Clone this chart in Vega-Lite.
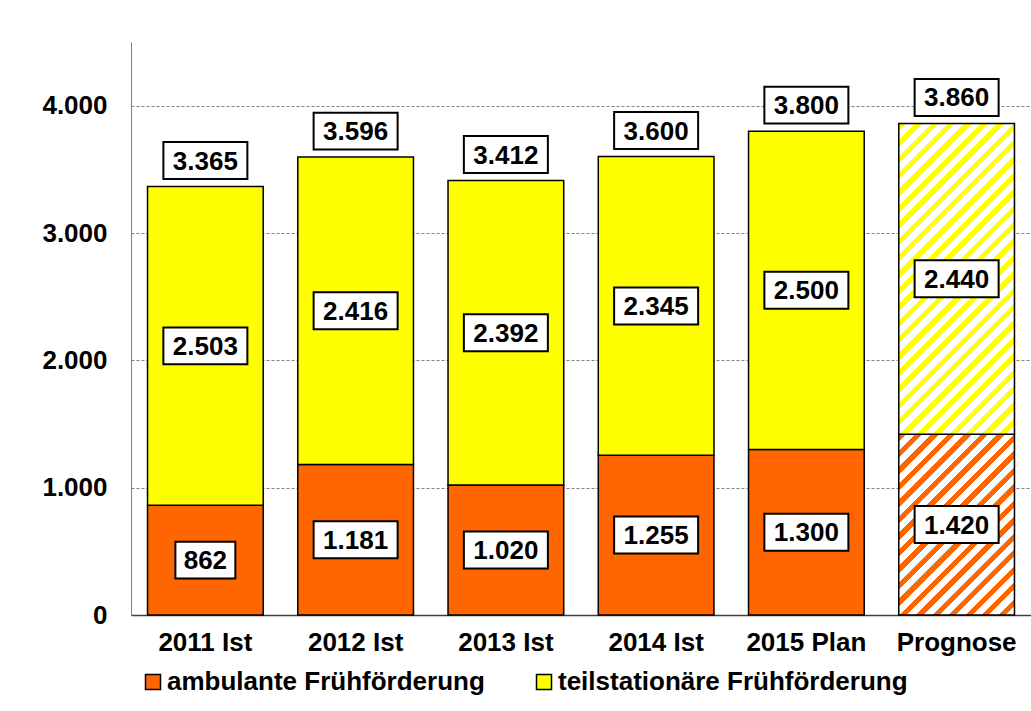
{
  "$schema": "https://vega.github.io/schema/vega-lite/v6.json",
  "width": 900,
  "height": 573,
  "autosize": {"type": "none"},
  "padding": {"left": 131, "top": 42, "right": 0, "bottom": 96},
  "background": "white",
  "data": {
    "values": [
      {"cat": "2011 Ist", "ambulante Frühförderung": 862, "teilstationäre Frühförderung": 2503, "total": 3365},
      {"cat": "2012 Ist", "ambulante Frühförderung": 1181, "teilstationäre Frühförderung": 2416, "total": 3596},
      {"cat": "2013 Ist", "ambulante Frühförderung": 1020, "teilstationäre Frühförderung": 2392, "total": 3412},
      {"cat": "2014 Ist", "ambulante Frühförderung": 1255, "teilstationäre Frühförderung": 2345, "total": 3600},
      {"cat": "2015 Plan", "ambulante Frühförderung": 1300, "teilstationäre Frühförderung": 2500, "total": 3800},
      {"cat": "Prognose", "ambulante Frühförderung": 1420, "teilstationäre Frühförderung": 2440, "total": 3860}
    ]
  },
  "encoding": {
    "x": {
      "field": "cat",
      "type": "nominal",
      "sort": ["2011 Ist", "2012 Ist", "2013 Ist", "2014 Ist", "2015 Plan", "Prognose"],
      "title": null,
      "scale": {"paddingInner": 0.23, "paddingOuter": 0.11},
      "axis": {
        "labelFont": "Liberation Sans",
        "labelFontSize": 26,
        "labelFontWeight": "bold",
        "labelColor": "black",
        "labelPadding": 14,
        "labelAngle": 0,
        "labelLimit": 0,
        "ticks": false,
        "tickSize": 0,
        "domainColor": "#404040",
        "domainWidth": 1.5,
        "grid": false
      }
    }
  },
  "layer": [
    {
      "transform": [
        {"fold": ["ambulante Frühförderung", "teilstationäre Frühförderung"], "as": ["typ", "val"]}
      ],
      "mark": {"type": "bar", "stroke": "black", "strokeWidth": 1.5},
      "encoding": {
        "y": {
          "field": "val",
          "type": "quantitative",
          "stack": "zero",
          "title": null,
          "scale": {"domain": [0, 4500], "nice": false},
          "axis": {
            "values": [0, 1000, 2000, 3000, 4000],
            "format": ",d",
            "labelFont": "Liberation Sans",
            "labelFontSize": 26,
            "labelFontWeight": "bold",
            "labelColor": "black",
            "labelPadding": 24,
            "ticks": false,
            "tickSize": 0,
            "domainColor": "#808080",
            "domainWidth": 1,
            "grid": true,
            "gridColor": "#808080",
            "gridDash": [3, 2],
            "gridWidth": 1
          }
        },
        "order": {"field": "typ", "sort": "ascending"},
        "color": {
          "field": "typ",
          "type": "nominal",
          "scale": {
            "domain": ["ambulante Frühförderung", "teilstationäre Frühförderung"],
            "range": ["#FF6600", "#FFFF00"]
          },
          "legend": {
            "orient": "none",
            "legendX": 9,
            "legendY": 627,
            "direction": "horizontal",
            "columns": 2,
            "title": null,
            "symbolType": "square",
            "symbolSize": 225,
            "symbolStrokeColor": "black",
            "symbolStrokeWidth": 1.5,
            "labelFont": "Liberation Sans",
            "labelFontSize": 26,
            "labelFontWeight": "bold",
            "labelColor": "black",
            "labelOffset": 1,
            "labelLimit": 0,
            "columnPadding": 46
          },
          "condition": [
            {
              "test": "datum.cat === 'Prognose' && datum.typ === 'ambulante Frühförderung'",
              "value": {
                "gradient": "linear", "x1": 0, "y1": 0, "x2": 0.7445, "y2": 1.1635,
                "stops": [
                  {"offset": 0, "color": "#FF6600"}, {"offset": 0.025, "color": "#FF6600"}, {"offset": 0.025, "color": "#FFFFFF"}, {"offset": 0.05556, "color": "#FFFFFF"},
                  {"offset": 0.05556, "color": "#FF6600"}, {"offset": 0.08056, "color": "#FF6600"}, {"offset": 0.08056, "color": "#FFFFFF"}, {"offset": 0.11111, "color": "#FFFFFF"},
                  {"offset": 0.11111, "color": "#FF6600"}, {"offset": 0.13611, "color": "#FF6600"}, {"offset": 0.13611, "color": "#FFFFFF"}, {"offset": 0.16667, "color": "#FFFFFF"},
                  {"offset": 0.16667, "color": "#FF6600"}, {"offset": 0.19167, "color": "#FF6600"}, {"offset": 0.19167, "color": "#FFFFFF"}, {"offset": 0.22222, "color": "#FFFFFF"},
                  {"offset": 0.22222, "color": "#FF6600"}, {"offset": 0.24722, "color": "#FF6600"}, {"offset": 0.24722, "color": "#FFFFFF"}, {"offset": 0.27778, "color": "#FFFFFF"},
                  {"offset": 0.27778, "color": "#FF6600"}, {"offset": 0.30278, "color": "#FF6600"}, {"offset": 0.30278, "color": "#FFFFFF"}, {"offset": 0.33333, "color": "#FFFFFF"},
                  {"offset": 0.33333, "color": "#FF6600"}, {"offset": 0.35833, "color": "#FF6600"}, {"offset": 0.35833, "color": "#FFFFFF"}, {"offset": 0.38889, "color": "#FFFFFF"},
                  {"offset": 0.38889, "color": "#FF6600"}, {"offset": 0.41389, "color": "#FF6600"}, {"offset": 0.41389, "color": "#FFFFFF"}, {"offset": 0.44444, "color": "#FFFFFF"},
                  {"offset": 0.44444, "color": "#FF6600"}, {"offset": 0.46944, "color": "#FF6600"}, {"offset": 0.46944, "color": "#FFFFFF"}, {"offset": 0.5, "color": "#FFFFFF"},
                  {"offset": 0.5, "color": "#FF6600"}, {"offset": 0.525, "color": "#FF6600"}, {"offset": 0.525, "color": "#FFFFFF"}, {"offset": 0.55556, "color": "#FFFFFF"},
                  {"offset": 0.55556, "color": "#FF6600"}, {"offset": 0.58056, "color": "#FF6600"}, {"offset": 0.58056, "color": "#FFFFFF"}, {"offset": 0.61111, "color": "#FFFFFF"},
                  {"offset": 0.61111, "color": "#FF6600"}, {"offset": 0.63611, "color": "#FF6600"}, {"offset": 0.63611, "color": "#FFFFFF"}, {"offset": 0.66667, "color": "#FFFFFF"},
                  {"offset": 0.66667, "color": "#FF6600"}, {"offset": 0.69167, "color": "#FF6600"}, {"offset": 0.69167, "color": "#FFFFFF"}, {"offset": 0.72222, "color": "#FFFFFF"},
                  {"offset": 0.72222, "color": "#FF6600"}, {"offset": 0.74722, "color": "#FF6600"}, {"offset": 0.74722, "color": "#FFFFFF"}, {"offset": 0.77778, "color": "#FFFFFF"},
                  {"offset": 0.77778, "color": "#FF6600"}, {"offset": 0.80278, "color": "#FF6600"}, {"offset": 0.80278, "color": "#FFFFFF"}, {"offset": 0.83333, "color": "#FFFFFF"},
                  {"offset": 0.83333, "color": "#FF6600"}, {"offset": 0.85833, "color": "#FF6600"}, {"offset": 0.85833, "color": "#FFFFFF"}, {"offset": 0.88889, "color": "#FFFFFF"},
                  {"offset": 0.88889, "color": "#FF6600"}, {"offset": 0.91389, "color": "#FF6600"}, {"offset": 0.91389, "color": "#FFFFFF"}, {"offset": 0.94444, "color": "#FFFFFF"},
                  {"offset": 0.94444, "color": "#FF6600"}, {"offset": 0.96944, "color": "#FF6600"}, {"offset": 0.96944, "color": "#FFFFFF"}, {"offset": 1, "color": "#FFFFFF"}
                ]
              }
            },
            {
              "test": "datum.cat === 'Prognose' && datum.typ === 'teilstationäre Frühförderung'",
              "value": {
                "gradient": "linear", "x1": 0, "y1": 0, "x2": 0.4488, "y2": 1.2053,
                "stops": [
                  {"offset": 0, "color": "#FFFF00"}, {"offset": 0.01731, "color": "#FFFF00"}, {"offset": 0.01731, "color": "#FFFFFF"}, {"offset": 0.03846, "color": "#FFFFFF"},
                  {"offset": 0.03846, "color": "#FFFF00"}, {"offset": 0.05577, "color": "#FFFF00"}, {"offset": 0.05577, "color": "#FFFFFF"}, {"offset": 0.07692, "color": "#FFFFFF"},
                  {"offset": 0.07692, "color": "#FFFF00"}, {"offset": 0.09423, "color": "#FFFF00"}, {"offset": 0.09423, "color": "#FFFFFF"}, {"offset": 0.11538, "color": "#FFFFFF"},
                  {"offset": 0.11538, "color": "#FFFF00"}, {"offset": 0.13269, "color": "#FFFF00"}, {"offset": 0.13269, "color": "#FFFFFF"}, {"offset": 0.15385, "color": "#FFFFFF"},
                  {"offset": 0.15385, "color": "#FFFF00"}, {"offset": 0.17115, "color": "#FFFF00"}, {"offset": 0.17115, "color": "#FFFFFF"}, {"offset": 0.19231, "color": "#FFFFFF"},
                  {"offset": 0.19231, "color": "#FFFF00"}, {"offset": 0.20962, "color": "#FFFF00"}, {"offset": 0.20962, "color": "#FFFFFF"}, {"offset": 0.23077, "color": "#FFFFFF"},
                  {"offset": 0.23077, "color": "#FFFF00"}, {"offset": 0.24808, "color": "#FFFF00"}, {"offset": 0.24808, "color": "#FFFFFF"}, {"offset": 0.26923, "color": "#FFFFFF"},
                  {"offset": 0.26923, "color": "#FFFF00"}, {"offset": 0.28654, "color": "#FFFF00"}, {"offset": 0.28654, "color": "#FFFFFF"}, {"offset": 0.30769, "color": "#FFFFFF"},
                  {"offset": 0.30769, "color": "#FFFF00"}, {"offset": 0.325, "color": "#FFFF00"}, {"offset": 0.325, "color": "#FFFFFF"}, {"offset": 0.34615, "color": "#FFFFFF"},
                  {"offset": 0.34615, "color": "#FFFF00"}, {"offset": 0.36346, "color": "#FFFF00"}, {"offset": 0.36346, "color": "#FFFFFF"}, {"offset": 0.38462, "color": "#FFFFFF"},
                  {"offset": 0.38462, "color": "#FFFF00"}, {"offset": 0.40192, "color": "#FFFF00"}, {"offset": 0.40192, "color": "#FFFFFF"}, {"offset": 0.42308, "color": "#FFFFFF"},
                  {"offset": 0.42308, "color": "#FFFF00"}, {"offset": 0.44038, "color": "#FFFF00"}, {"offset": 0.44038, "color": "#FFFFFF"}, {"offset": 0.46154, "color": "#FFFFFF"},
                  {"offset": 0.46154, "color": "#FFFF00"}, {"offset": 0.47885, "color": "#FFFF00"}, {"offset": 0.47885, "color": "#FFFFFF"}, {"offset": 0.5, "color": "#FFFFFF"},
                  {"offset": 0.5, "color": "#FFFF00"}, {"offset": 0.51731, "color": "#FFFF00"}, {"offset": 0.51731, "color": "#FFFFFF"}, {"offset": 0.53846, "color": "#FFFFFF"},
                  {"offset": 0.53846, "color": "#FFFF00"}, {"offset": 0.55577, "color": "#FFFF00"}, {"offset": 0.55577, "color": "#FFFFFF"}, {"offset": 0.57692, "color": "#FFFFFF"},
                  {"offset": 0.57692, "color": "#FFFF00"}, {"offset": 0.59423, "color": "#FFFF00"}, {"offset": 0.59423, "color": "#FFFFFF"}, {"offset": 0.61538, "color": "#FFFFFF"},
                  {"offset": 0.61538, "color": "#FFFF00"}, {"offset": 0.63269, "color": "#FFFF00"}, {"offset": 0.63269, "color": "#FFFFFF"}, {"offset": 0.65385, "color": "#FFFFFF"},
                  {"offset": 0.65385, "color": "#FFFF00"}, {"offset": 0.67115, "color": "#FFFF00"}, {"offset": 0.67115, "color": "#FFFFFF"}, {"offset": 0.69231, "color": "#FFFFFF"},
                  {"offset": 0.69231, "color": "#FFFF00"}, {"offset": 0.70962, "color": "#FFFF00"}, {"offset": 0.70962, "color": "#FFFFFF"}, {"offset": 0.73077, "color": "#FFFFFF"},
                  {"offset": 0.73077, "color": "#FFFF00"}, {"offset": 0.74808, "color": "#FFFF00"}, {"offset": 0.74808, "color": "#FFFFFF"}, {"offset": 0.76923, "color": "#FFFFFF"},
                  {"offset": 0.76923, "color": "#FFFF00"}, {"offset": 0.78654, "color": "#FFFF00"}, {"offset": 0.78654, "color": "#FFFFFF"}, {"offset": 0.80769, "color": "#FFFFFF"},
                  {"offset": 0.80769, "color": "#FFFF00"}, {"offset": 0.825, "color": "#FFFF00"}, {"offset": 0.825, "color": "#FFFFFF"}, {"offset": 0.84615, "color": "#FFFFFF"},
                  {"offset": 0.84615, "color": "#FFFF00"}, {"offset": 0.86346, "color": "#FFFF00"}, {"offset": 0.86346, "color": "#FFFFFF"}, {"offset": 0.88462, "color": "#FFFFFF"},
                  {"offset": 0.88462, "color": "#FFFF00"}, {"offset": 0.90192, "color": "#FFFF00"}, {"offset": 0.90192, "color": "#FFFFFF"}, {"offset": 0.92308, "color": "#FFFFFF"},
                  {"offset": 0.92308, "color": "#FFFF00"}, {"offset": 0.94038, "color": "#FFFF00"}, {"offset": 0.94038, "color": "#FFFFFF"}, {"offset": 0.96154, "color": "#FFFFFF"},
                  {"offset": 0.96154, "color": "#FFFF00"}, {"offset": 0.97885, "color": "#FFFF00"}, {"offset": 0.97885, "color": "#FFFFFF"}, {"offset": 1, "color": "#FFFFFF"}
                ]
              }
            }
          ]
        }
      }
    },
    {
      "transform": [
        {"fold": ["ambulante Frühförderung", "teilstationäre Frühförderung"], "as": ["typ", "val"]},
        {"stack": "val", "groupby": ["cat"], "sort": [{"field": "typ", "order": "ascending"}], "as": ["v0", "v1"]},
        {"fold": ["v0", "v1"], "as": ["edge", "pos"]},
        {"aggregate": [{"op": "mean", "field": "pos", "as": "mid"}], "groupby": ["cat", "typ", "val"]}
      ],
      "encoding": {
        "y": {"field": "mid", "type": "quantitative", "title": null}
      },
      "layer": [
        {
          "mark": {"type": "point", "filled": true, "fill": "white", "stroke": "black", "strokeWidth": 2, "opacity": 1, "fillOpacity": 1, "strokeOpacity": 1, "size": 7056},
          "encoding": {
            "shape": {
              "condition": {"test": "datum.val < 1000", "value": "M-0.714,-0.44H0.714V0.44H-0.714Z"},
              "value": "M-1,-0.44H1V0.44H-1Z"
            }
          }
        },
        {
          "mark": {"type": "text", "font": "Liberation Sans", "fontSize": 26, "fontWeight": "bold", "color": "black", "baseline": "middle", "align": "center", "dy": 1},
          "encoding": {
            "text": {"field": "val", "type": "quantitative", "format": ",d"}
          }
        }
      ]
    },
    {
      "encoding": {
        "y": {"field": "total", "type": "quantitative", "title": null}
      },
      "layer": [
        {
          "mark": {"type": "point", "filled": true, "fill": "white", "stroke": "black", "strokeWidth": 2, "opacity": 1, "fillOpacity": 1, "strokeOpacity": 1, "size": 7056, "yOffset": -26, "shape": "M-1,-0.44H1V0.44H-1Z"}
        },
        {
          "mark": {"type": "text", "font": "Liberation Sans", "fontSize": 26, "fontWeight": "bold", "color": "black", "baseline": "middle", "align": "center", "yOffset": -26, "dy": 1},
          "encoding": {
            "text": {"field": "total", "type": "quantitative", "format": ",d"}
          }
        }
      ]
    }
  ],
  "config": {
    "view": {"stroke": null},
    "locale": {
      "number": {"decimal": ",", "thousands": ".", "grouping": [3], "currency": ["", " €"]}
    }
  }
}
